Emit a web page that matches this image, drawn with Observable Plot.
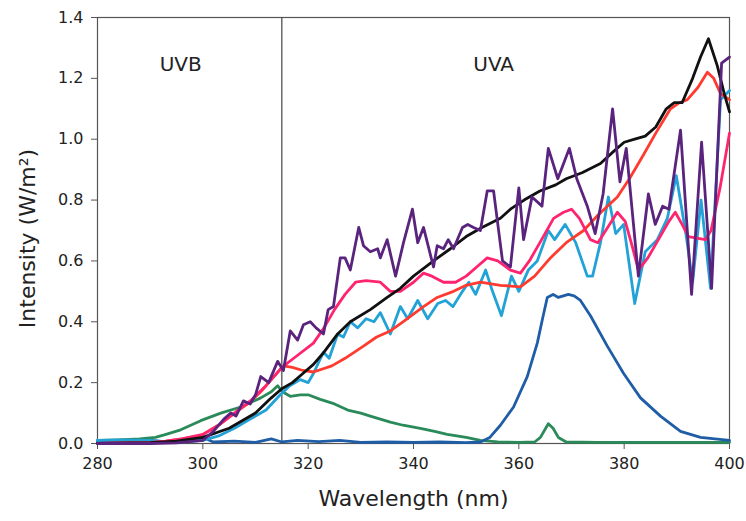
<!DOCTYPE html>
<html>
<head>
<meta charset="utf-8">
<script src="https://cdn.jsdelivr.net/npm/d3@7"></script>
<script src="https://cdn.jsdelivr.net/npm/@observablehq/plot@0.6"></script>
<style>
  html, body { margin: 0; padding: 0; background: #fff; }
  #chart svg { display: block; }
</style>
</head>
<body>
<div id="chart"></div>
<script>
// Axis ticks
const xTicks = [280, 300, 320, 340, 360, 380, 400];
const yTicks = [0, 0.2, 0.4, 0.6, 0.8, 1.0, 1.2, 1.4];

// UV bands: names and boundaries (nm)
const bandNames = ["UVB", "UVA"];
const bandEdges = [280, 315, 400];

// Spectra: [wavelength nm, intensity W/m²]
const blackSpec = [[280,0],[290,0.003],[295,0.008],[300,0.02],[305,0.05],[310,0.1],[313,0.15],[315,0.18],[317,0.2],[319,0.23],[321,0.26],[323,0.3],[325.6,0.36],[328,0.4],[331.8,0.44],[335,0.48],[337.5,0.51],[340,0.55],[343.8,0.6],[347,0.64],[350,0.68],[353,0.71],[356.5,0.74],[358.4,0.77],[361,0.8],[364,0.83],[367,0.85],[369,0.87],[372,0.89],[375.5,0.92],[378,0.96],[380,0.99],[382,1.0],[384,1.01],[386,1.04],[388,1.1],[389.5,1.12],[391,1.12],[393,1.2],[394.5,1.27],[396,1.33],[397.7,1.24],[399,1.15],[400,1.09]];

const redSpec = [[280,0],[290,0.003],[293,0.008],[296,0.015],[299.6,0.025],[303.4,0.065],[306,0.1],[308.5,0.13],[311,0.17],[313,0.21],[315.3,0.255],[317,0.25],[319,0.24],[321,0.235],[324.5,0.255],[327,0.28],[330.5,0.32],[333,0.35],[335.6,0.37],[338,0.4],[341.9,0.45],[344.5,0.48],[347.6,0.5],[350,0.52],[352.7,0.53],[356.5,0.52],[360.3,0.515],[363,0.55],[366,0.61],[369,0.66],[372.3,0.7],[375,0.75],[378.7,0.81],[381,0.87],[383.7,0.95],[386,1.02],[388.8,1.1],[390.5,1.12],[392,1.13],[394,1.17],[395.8,1.22],[397,1.2],[398.3,1.15],[400,1.13]];

const pinkSpec = [[280,0],[290,0.003],[293,0.008],[296,0.015],[300,0.03],[303,0.06],[306,0.1],[309,0.14],[312,0.19],[315,0.25],[318,0.29],[321,0.33],[323,0.38],[325,0.44],[327,0.49],[329,0.53],[331,0.535],[333.7,0.53],[335.6,0.5],[337.5,0.5],[340,0.53],[341.9,0.56],[343.5,0.55],[345.7,0.53],[348,0.53],[350,0.55],[352,0.58],[354,0.61],[356,0.6],[358.4,0.57],[360.3,0.56],[362,0.6],[364,0.66],[366.6,0.74],[368.5,0.76],[370,0.77],[371.5,0.74],[373.6,0.67],[375,0.66],[376.5,0.7],[378.7,0.76],[380.2,0.73],[381.5,0.65],[382.7,0.57],[384.5,0.61],[386.5,0.67],[388.5,0.73],[389.7,0.76],[391,0.72],[392.2,0.68],[395.4,0.67],[396.5,0.7],[398.2,0.84],[400,1.02]];

const purpleSpec = [[280,0],[290,0],[295,0.002],[300,0.01],[302,0.04],[304,0.08],[305.3,0.1],[306.3,0.09],[307.7,0.14],[309,0.13],[310,0.16],[311,0.22],[312.5,0.2],[314.2,0.27],[315.3,0.24],[316.6,0.37],[318,0.34],[319.1,0.39],[320.4,0.4],[321.5,0.38],[322.9,0.36],[323.8,0.44],[324.8,0.45],[326.1,0.61],[327,0.61],[328,0.57],[329.6,0.71],[330.5,0.65],[331.8,0.63],[333.2,0.64],[333.7,0.61],[335,0.67],[336.6,0.55],[338.1,0.66],[339.8,0.77],[340.8,0.66],[341.9,0.71],[343.8,0.58],[344.5,0.65],[345.7,0.64],[346.6,0.67],[347.6,0.64],[349.3,0.71],[350.3,0.72],[351.4,0.71],[352.7,0.7],[354,0.83],[355.2,0.83],[356.9,0.6],[358.4,0.58],[360,0.84],[360.9,0.67],[362.5,0.81],[364.4,0.78],[365.6,0.97],[367.4,0.87],[369.6,0.97],[371,0.87],[373,0.78],[374.5,0.69],[376,0.82],[377.8,1.1],[379.2,0.86],[380.4,0.97],[382.7,0.55],[384.6,0.82],[385.9,0.72],[387.3,0.78],[388.5,0.77],[390.7,1.03],[392.8,0.49],[394.7,0.99],[396.6,0.51],[398.5,1.25],[400,1.27]];

const cyanSpec = [[280,0.01],[285,0.012],[290,0.01],[293,0.005],[296,0.005],[300,0.01],[303,0.025],[306,0.05],[309,0.08],[312,0.11],[314.7,0.16],[316.5,0.19],[318.5,0.21],[320,0.2],[321,0.23],[322.9,0.3],[324,0.28],[325.6,0.36],[326.7,0.35],[328,0.4],[329.4,0.38],[331,0.41],[332.5,0.4],[333.7,0.43],[335.6,0.36],[337.5,0.45],[338.9,0.41],[340.8,0.47],[342.7,0.41],[344.6,0.46],[346.1,0.47],[347.5,0.45],[349.3,0.5],[350.5,0.53],[351.8,0.49],[353.7,0.57],[355,0.5],[356.7,0.42],[358.6,0.55],[360,0.5],[361.8,0.57],[363.5,0.6],[365.6,0.7],[366.8,0.67],[368.8,0.72],[370.8,0.66],[373,0.55],[374,0.55],[375.5,0.66],[377,0.81],[378.4,0.69],[379.9,0.72],[382,0.46],[384,0.63],[386.3,0.67],[388.2,0.74],[389.9,0.88],[391.8,0.68],[393,0.53],[394.6,0.8],[396.4,0.51],[398.3,1.13],[400,1.16]];

const blueSpec = [[280,0.005],[285,0.008],[290,0.01],[295,0.003],[298,0.01],[300,0.02],[302,0.005],[306,0.008],[310,0.004],[313,0.015],[315,0.005],[318,0.01],[322,0.006],[326,0.01],[330,0.004],[335,0.005],[340,0.004],[345,0.005],[350,0.003],[352.7,0.005],[354.5,0.02],[356.5,0.06],[359,0.12],[361.6,0.22],[363.5,0.33],[364.5,0.41],[365.4,0.48],[366.5,0.49],[367.5,0.48],[369.4,0.49],[370.5,0.485],[371.7,0.47],[373.6,0.42],[376.8,0.32],[379.9,0.23],[383.1,0.15],[386.9,0.09],[390.7,0.04],[394.5,0.02],[400,0.01]];

const greenSpec = [[280,0.01],[284,0.012],[288,0.015],[291,0.02],[293,0.03],[295.8,0.045],[299.6,0.075],[303.4,0.1],[307.2,0.12],[311,0.15],[313,0.17],[314.2,0.19],[315.1,0.17],[316.6,0.155],[318.5,0.16],[320,0.16],[322.3,0.145],[325,0.13],[327.5,0.11],[330,0.1],[331.8,0.09],[335.6,0.07],[338,0.06],[341.3,0.05],[344,0.04],[346.4,0.03],[350,0.02],[352.7,0.01],[356,0.005],[360,0.004],[363,0.005],[364.1,0.02],[365.6,0.065],[366.5,0.05],[367.5,0.02],[369,0.005],[375,0.004],[385,0.004],[400,0.004]];

// Draw order (bottom to top) and stroke colours
const layers = [
  {spec: greenSpec,  color: "#2b8a5a"},
  {spec: blueSpec,   color: "#1f5ea6"},
  {spec: cyanSpec,   color: "#22a2d6"},
  {spec: redSpec,    color: "#ff3b30"},
  {spec: pinkSpec,   color: "#ff2470"},
  {spec: blackSpec,  color: "#111111"},
  {spec: purpleSpec, color: "#5a237e"}
];

// Band label positions: centre of each band, nudged slightly left
const bandMid = bandNames.map((_, i) => (bandEdges[i] + bandEdges[i + 1]) / 2);
const bandNudge = [-9, -12];

const font = "'DejaVu Sans', Verdana, sans-serif";

const chart = Plot.plot({
  width: 746,
  height: 521,
  marginLeft: 97,
  marginRight: 17,
  marginTop: 17,
  marginBottom: 78,
  style: {fontFamily: font, fontSize: "16px", color: "#222", background: "#fff"},
  x: {domain: [280, 400]},
  y: {domain: [0, 1.4]},
  marks: [
    Plot.frame({stroke: "#555", strokeWidth: 1.2}),
    Plot.axisX({ticks: xTicks, tickSize: 6, tickPadding: 8, label: null, fontSize: 16, stroke: "#555"}),
    Plot.axisY({ticks: yTicks, tickSize: 6, tickPadding: 8, tickFormat: d3.format(".1f"), label: null, fontSize: 16, stroke: "#555"}),
    Plot.ruleX([bandEdges[1]], {stroke: "#444", strokeWidth: 1.2}),
    ...layers.map(l => Plot.line(l.spec, {
      x: d => d[0], y: d => d[1],
      stroke: l.color, strokeWidth: 2.8, strokeLinejoin: "round", strokeLinecap: "round"
    })),
    ...bandNames.map((name, i) => Plot.text([name], {
      x: [bandMid[i]], frameAnchor: "top", dy: 47, dx: bandNudge[i],
      lineAnchor: "middle", textAnchor: "middle", fontSize: 20, fill: "#222"
    })),
    Plot.text(["Wavelength (nm)"], {
      frameAnchor: "bottom", dy: 55, lineAnchor: "middle", textAnchor: "middle", fontSize: 22, fill: "#222"
    }),
    Plot.text(["Intensity (W/m²)"], {
      frameAnchor: "left", dx: -70, dy: 8, rotate: -90, lineAnchor: "middle", textAnchor: "middle", fontSize: 22, fill: "#222"
    })
  ]
});

document.getElementById("chart").append(chart);
</script>
</body>
</html>
